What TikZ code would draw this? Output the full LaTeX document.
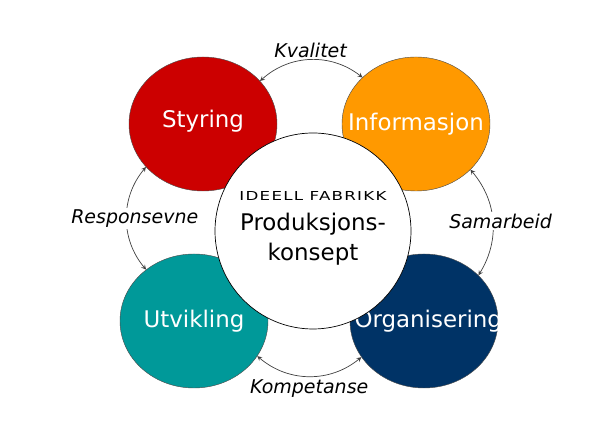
\documentclass[tikz,border=0pt]{standalone}
\usepackage{fontspec}
\setmainfont{DejaVu Sans}
\newfontfamily\widefont[FakeStretch=1.35,LetterSpace=10]{DejaVu Sans}
\usepackage{tikz}
\usetikzlibrary{shapes.geometric}
\definecolor{styrred}{RGB}{204, 0, 0}
\definecolor{infoorange}{RGB}{255, 153, 0}
\definecolor{utvteal}{RGB}{0, 153, 153}
\definecolor{orgnavy}{RGB}{0, 51, 102}
\newcommand{\blobtext}[1]{\makebox[0pt]{#1}}

\begin{document}
\begin{tikzpicture}[>=stealth,
  blob/.style={ellipse, draw=black!70, line width=0.3pt, minimum width=3.7cm, minimum height=3.35cm,
    inner sep=0pt, text=white, font=\fontsize{16.3}{19}\selectfont},
  link/.style={<->, black!75, line width=0.5pt},
  lbl/.style={font=\fontsize{13.5}{16}\selectfont\itshape, text=black, inner sep=1pt}]
  \useasboundingbox (0,0) rectangle (15,10.6);
  \node[blob, fill=styrred] (S) at (5.075,7.5) {\raisebox{7pt}{\blobtext{Styring}}};
  \node[blob, fill=infoorange] (I) at (10.4,7.5) {\raisebox{3pt}{\blobtext{Informasjon}}};
  \node[blob, fill=utvteal] (U) at (4.85,2.575) {\blobtext{Utvikling}};
  \node[blob, fill=orgnavy] (O) at (10.6,2.575) {\hspace{6pt}\blobtext{Organisering}};
  \node[circle, draw, fill=white, line width=0.5pt, minimum size=4.9cm] (C) at (7.825,4.825) {};
  \node[font=\widefont\fontsize{8.8}{10}\selectfont] (ttl) at (7.825,5.7) {IDEELL FABRIKK};
  \node[font=\fontsize{16.3}{19}\selectfont] (pk1) at (7.825,5.0) {Produksjons-};
  \node[font=\fontsize{16.3}{19}\selectfont] (pk2) at (7.825,4.25) {konsept};
  \draw[link] (S.37) to[bend left=40] node[lbl, above] (kval) {Kvalitet} (I.139);
  \draw[link] (S.217) to[bend right=40] node[lbl, fill=white, xshift=0.2cm] (resp) {Responsevne} (U.133);
  \draw[link] (I.320) to[bend left=36] node[lbl, fill=white, xshift=0.2cm] (samb) {Samarbeid} (O.40);
  \draw[link] (U.331) to[bend right=40] node[lbl, below, yshift=-1pt] (komp) {Kompetanse} (O.210);
\end{tikzpicture}
\end{document}
